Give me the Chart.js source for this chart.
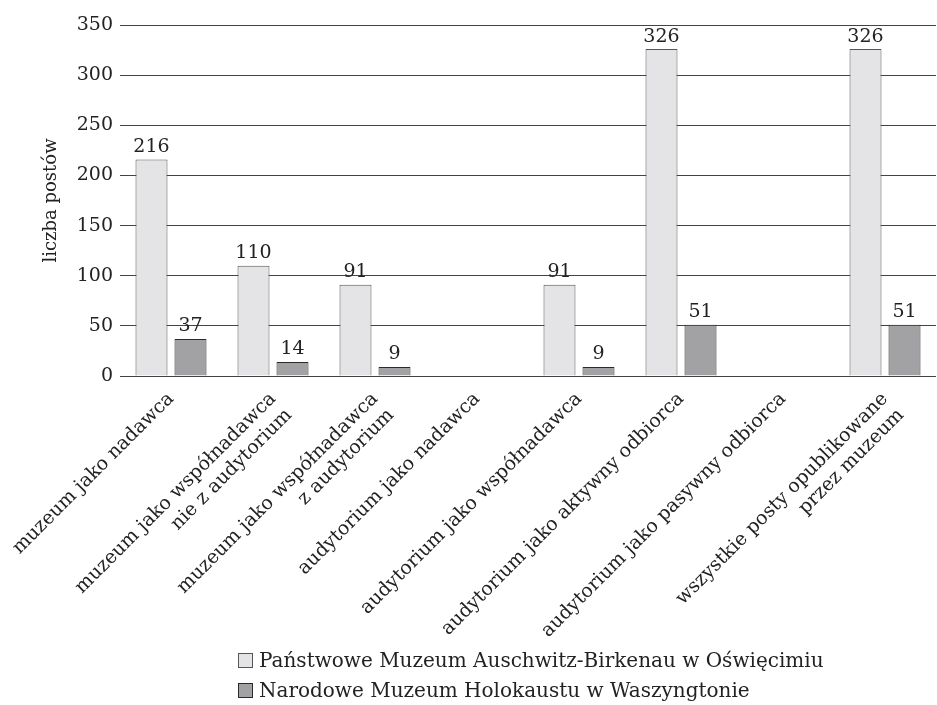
<!DOCTYPE html>
<html>
<head>
<meta charset="utf-8">
<script src="https://cdn.jsdelivr.net/npm/chart.js@4.4.1/dist/chart.umd.min.js"></script>
<style>
  body { margin: 0; background: #fff; }
  #wrap { position: relative; width: 937px; height: 705px; }
  #legend { position: absolute; left: 238px; top: 645px; font: 20px "DejaVu Serif", serif; color: #222; }
  #legend div { height: 30px; line-height: 24px; display: flex; align-items: center; }
  #legend span.box { display: inline-block; width: 15px; height: 15px; margin-right: 6px; box-sizing: border-box; }
</style>
</head>
<body>
<div id="wrap">
  <canvas id="myChart"></canvas>
  <div id="legend"></div>
</div>
<script>
const categories = [
  "muzeum jako nadawca",
  ["muzeum jako współnadawca", "nie z audytorium"],
  ["muzeum jako współnadawca", "z audytorium"],
  "audytorium jako nadawca",
  "audytorium jako współnadawca",
  "audytorium jako aktywny odbiorca",
  "audytorium jako pasywny odbiorca",
  ["wszystkie posty opublikowane", "przez muzeum"]
];
const auschwitz = [216, 110, 91, null, 91, 326, null, 326];
const holokaust = [37, 14, 9, null, 9, 51, null, 51];
const seriesNames = [
  "Państwowe Muzeum Auschwitz-Birkenau w Oświęcimiu",
  "Narodowe Muzeum Holokaustu w Waszyngtonie"
];
const yTicks = [0, 50, 100, 150, 200, 250, 300, 350];

const font = '"DejaVu Serif", serif';

// numbers above the bars
const valueLabels = {
  id: "valueLabels",
  afterDatasetsDraw(chart) {
    const ctx = chart.ctx;
    ctx.save();
    ctx.font = "19px " + font;
    ctx.fillStyle = "#222";
    ctx.textAlign = "center";
    ctx.textBaseline = "bottom";
    chart.data.datasets.forEach((ds, i) => {
      chart.getDatasetMeta(i).data.forEach((bar, j) => {
        const v = ds.data[j];
        if (v == null) return;
        ctx.fillText(v, bar.x, bar.y - 3);
      });
    });
    ctx.restore();
  }
};

const datasets = [
  {
    label: seriesNames[0],
    data: auschwitz,
    backgroundColor: "#e4e4e6",
    borderColor: "#555",
    borderWidth: 1
  },
  {
    label: seriesNames[1],
    data: holokaust,
    backgroundColor: "#a2a2a5",
    borderColor: "#2a2a2a",
    borderWidth: 1
  }
];

const config = {
  type: "bar",
  data: { labels: categories, datasets },
  options: {
    responsive: true,
    maintainAspectRatio: false,
    animation: false,
    layout: { padding: { top: 25, right: 1, bottom: 59, left: 0 } },
    datasets: { bar: { categoryPercentage: 0.765, barPercentage: 0.82 } },
    plugins: {
      legend: { display: false },
      tooltip: { enabled: false }
    },
    scales: {
      x: {
        grid: { display: false },
        border: { display: false },
        ticks: {
          color: "#222",
          font: { family: font, size: 19, lineHeight: 1.2 },
          minRotation: 45,
          maxRotation: 45,
          autoSkip: false,
          padding: 4
        },
        afterFit: (scale) => { scale.height = 270; }
      },
      y: {
        min: 0,
        max: 350,
        afterBuildTicks: (scale) => { scale.ticks = yTicks.map((v) => ({ value: v })); },
        grid: { color: "#444", lineWidth: 1, drawTicks: false },
        border: { display: false },
        ticks: {
          color: "#222",
          font: { family: font, size: 19 },
          padding: 7
        },
        title: {
          display: true,
          text: "liczba postów",
          color: "#222",
          font: { family: font, size: 18 },
          padding: { top: 41, bottom: 0 }
        },
        afterFit: (scale) => { scale.width = 120; }
      }
    }
  },
  plugins: [valueLabels]
};

new Chart(document.getElementById("myChart"), config);

// legend below the chart, two rows
const legend = document.getElementById("legend");
datasets.forEach((ds) => {
  const row = document.createElement("div");
  const box = document.createElement("span");
  box.className = "box";
  box.style.background = ds.backgroundColor;
  box.style.border = "1px solid " + ds.borderColor;
  row.appendChild(box);
  row.appendChild(document.createTextNode(ds.label));
  legend.appendChild(row);
});
</script>
</body>
</html>
